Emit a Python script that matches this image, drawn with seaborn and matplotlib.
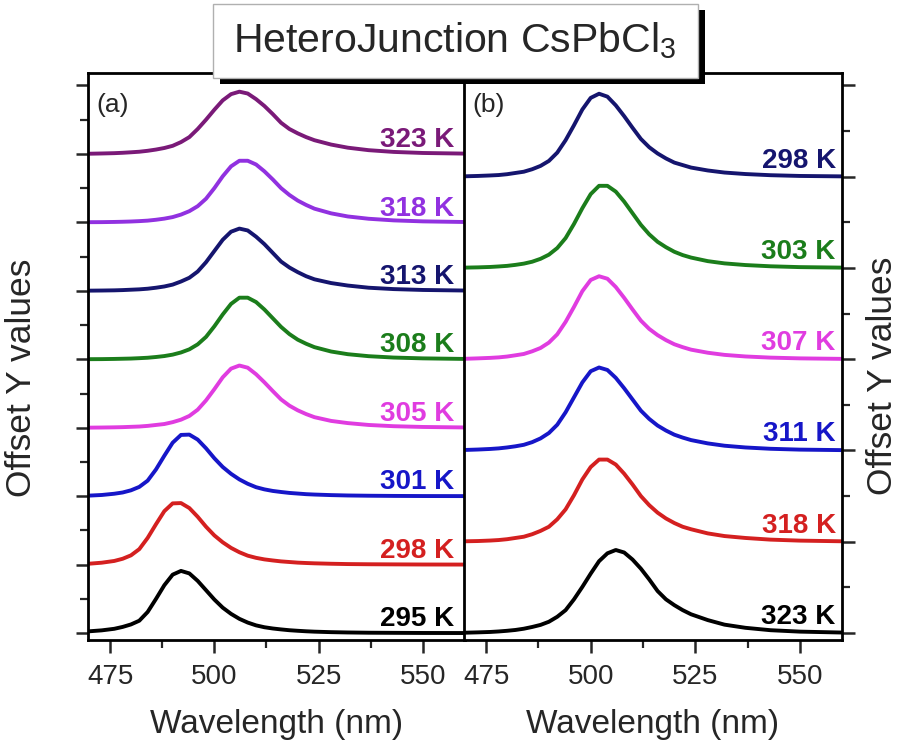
import matplotlib
matplotlib.use("Agg")
import matplotlib.pyplot as plt
from matplotlib.patches import Rectangle
from matplotlib.ticker import MultipleLocator
import pandas as pd
import seaborn as sns

# wavelength grid (nm) shared by all spectra
wavelength = [470, 473, 476, 478, 480, 482, 484, 486, 488, 490, 492, 494, 496, 498, 500, 502, 504,
              506, 508, 510, 512, 514, 516, 518, 520, 522, 524, 528, 532, 537, 543, 550, 560]

# panel (a), read from bottom to top
a_295 = [0.03, 0.045, 0.07, 0.10, 0.14, 0.20, 0.34, 0.55, 0.77, 0.94, 1.0, 0.96, 0.84, 0.69, 0.54, 0.41, 0.31,
         0.23, 0.17, 0.125, 0.095, 0.075, 0.06, 0.047, 0.038, 0.03, 0.024, 0.016, 0.011, 0.007, 0.005, 0.003, 0.002]
a_298 = [0.016, 0.032, 0.06, 0.095, 0.15, 0.25, 0.43, 0.65, 0.86, 0.985, 0.99, 0.91, 0.77, 0.61, 0.47, 0.36, 0.27,
         0.20, 0.145, 0.11, 0.085, 0.068, 0.053, 0.043, 0.033, 0.027, 0.022, 0.015, 0.01, 0.007, 0.005, 0.003, 0.002]
a_301 = [0.01, 0.02, 0.04, 0.06, 0.095, 0.15, 0.25, 0.43, 0.65, 0.86, 0.985, 0.99, 0.91, 0.77, 0.61, 0.47, 0.36,
         0.27, 0.20, 0.145, 0.11, 0.085, 0.068, 0.053, 0.043, 0.033, 0.027, 0.018, 0.012, 0.008, 0.005, 0.003, 0.002]
a_305 = [0.002, 0.004, 0.007, 0.01, 0.015, 0.02, 0.03, 0.045, 0.06, 0.09, 0.13, 0.19, 0.29, 0.44, 0.62, 0.81, 0.95,
         1.0, 0.965, 0.86, 0.73, 0.59, 0.455, 0.355, 0.28, 0.22, 0.17, 0.11, 0.075, 0.045, 0.025, 0.013, 0.005]
a_308 = [0.002, 0.003, 0.006, 0.009, 0.012, 0.018, 0.025, 0.037, 0.052, 0.075, 0.11, 0.16, 0.24, 0.36, 0.53, 0.72, 0.89,
         0.99, 0.99, 0.92, 0.80, 0.66, 0.52, 0.405, 0.315, 0.25, 0.195, 0.125, 0.082, 0.05, 0.028, 0.015, 0.006]
a_313 = [0.003, 0.005, 0.008, 0.012, 0.018, 0.024, 0.034, 0.05, 0.07, 0.10, 0.15, 0.21, 0.31, 0.46, 0.64, 0.82, 0.95,
         1.0, 0.97, 0.87, 0.75, 0.61, 0.47, 0.375, 0.30, 0.235, 0.185, 0.125, 0.085, 0.05, 0.028, 0.014, 0.005]
a_318 = [0.003, 0.004, 0.007, 0.01, 0.014, 0.02, 0.028, 0.042, 0.06, 0.085, 0.125, 0.18, 0.26, 0.38, 0.55, 0.74, 0.90,
         0.99, 0.99, 0.93, 0.82, 0.69, 0.55, 0.44, 0.35, 0.28, 0.22, 0.145, 0.095, 0.058, 0.032, 0.016, 0.006]
a_323 = [0.003, 0.007, 0.012, 0.018, 0.026, 0.035, 0.05, 0.07, 0.095, 0.13, 0.19, 0.27, 0.40, 0.55, 0.71, 0.86, 0.96,
         1.0, 0.97, 0.88, 0.77, 0.64, 0.50, 0.40, 0.33, 0.27, 0.22, 0.15, 0.10, 0.06, 0.032, 0.015, 0.005]

temps_a = ["295 K", "298 K", "301 K", "305 K", "308 K", "313 K", "318 K", "323 K"]
spectra_a = [a_295, a_298, a_301, a_305, a_308, a_313, a_318, a_323]
colors_a = ["#000000", "#d42020", "#1616c8", "#e03ce0", "#1b7d1b", "#15156e", "#9131e0", "#7a1a78"]

# panel (b), bottom to top
b_323 = [0.003, 0.007, 0.012, 0.018, 0.026, 0.036, 0.051, 0.072, 0.097, 0.135, 0.195, 0.275, 0.405, 0.555, 0.715, 0.865, 0.96,
         1.0, 0.97, 0.885, 0.775, 0.645, 0.505, 0.405, 0.335, 0.275, 0.225, 0.155, 0.10, 0.062, 0.033, 0.016, 0.005]
b_318 = [0.005, 0.008, 0.014, 0.02, 0.03, 0.045, 0.06, 0.09, 0.13, 0.18, 0.27, 0.39, 0.56, 0.75, 0.90, 0.99, 0.99,
         0.93, 0.82, 0.69, 0.55, 0.44, 0.35, 0.28, 0.225, 0.18, 0.15, 0.10, 0.068, 0.045, 0.025, 0.013, 0.005]
b_311 = [0.006, 0.011, 0.018, 0.025, 0.036, 0.05, 0.068, 0.10, 0.145, 0.21, 0.31, 0.46, 0.64, 0.82, 0.955, 1.0, 0.97,
         0.875, 0.75, 0.615, 0.48, 0.38, 0.30, 0.24, 0.19, 0.155, 0.125, 0.085, 0.057, 0.036, 0.02, 0.01, 0.004]
b_307 = [0.005, 0.01, 0.016, 0.022, 0.032, 0.047, 0.063, 0.095, 0.135, 0.20, 0.30, 0.45, 0.63, 0.82, 0.955, 1.0, 0.97,
         0.87, 0.74, 0.60, 0.465, 0.365, 0.29, 0.23, 0.18, 0.145, 0.115, 0.078, 0.052, 0.033, 0.019, 0.01, 0.004]
b_303 = [0.004, 0.007, 0.012, 0.018, 0.025, 0.037, 0.052, 0.075, 0.11, 0.16, 0.24, 0.36, 0.53, 0.72, 0.89, 0.99, 0.99,
         0.92, 0.80, 0.66, 0.52, 0.405, 0.315, 0.25, 0.195, 0.155, 0.125, 0.082, 0.055, 0.035, 0.02, 0.01, 0.004]
b_298 = [0.005, 0.009, 0.015, 0.02, 0.03, 0.045, 0.06, 0.09, 0.13, 0.19, 0.29, 0.44, 0.62, 0.81, 0.95, 1.0, 0.965,
         0.86, 0.73, 0.59, 0.455, 0.355, 0.28, 0.22, 0.17, 0.14, 0.11, 0.075, 0.05, 0.032, 0.018, 0.009, 0.004]

temps_b = ["323 K", "318 K", "311 K", "307 K", "303 K", "298 K"]
spectra_b = [b_323, b_318, b_311, b_307, b_303, b_298]
colors_b = ["#000000", "#d42020", "#1616c8", "#e03ce0", "#1b7d1b", "#15156e"]

STEP = 1.1  # vertical offset between stacked spectra

sns.set_theme(style="ticks")
plt.rcParams['font.family'] = ['Liberation Sans', 'DejaVu Sans']
plt.rcParams['mathtext.fontset'] = 'custom'
plt.rcParams['mathtext.rm'] = 'Liberation Sans'
plt.rcParams['mathtext.default'] = 'regular'


def stack(temps, spectra):
    rows = []
    for i, (t, ys) in enumerate(zip(temps, spectra)):
        for x, y in zip(wavelength, ys):
            rows.append({"wl": x, "y": y + i * STEP, "temp": t})
    return pd.DataFrame(rows)


fig = plt.figure(figsize=(9, 7.47), dpi=100)
ax_a = fig.add_axes([88 / 900, 107 / 747, 377 / 900, 567 / 747])
ax_b = fig.add_axes([464 / 900, 107 / 747, 378 / 900, 567 / 747])

panels = [(ax_a, temps_a, spectra_a, colors_a, (-0.11, 9.0), "(a)", 557.6),
          (ax_b, temps_b, spectra_b, colors_b, (-0.085, 6.75), "(b)", 558.6)]

for ax, temps, spectra, colors, ylim, tag, xlab in panels:
    df = stack(temps, spectra)
    sns.lineplot(data=df, x="wl", y="y", hue="temp", palette=dict(zip(temps, colors)),
                 estimator=None, sort=True, lw=2.8, legend=False, ax=ax)
    for i, (t, c) in enumerate(zip(temps, colors)):
        ax.text(xlab, i * STEP + 0.11, t, color=c, fontsize=20, fontweight="bold",
                ha="right", va="baseline")
    ax.text(0.022, 0.965, tag, transform=ax.transAxes, fontsize=19, ha="left", va="top")

    ax.set_xlim(469.7, 560.1)
    ax.set_ylim(*ylim)
    ax.xaxis.set_major_locator(MultipleLocator(25))
    ax.xaxis.set_minor_locator(MultipleLocator(12.5))
    ax.yaxis.set_major_locator(MultipleLocator(STEP))
    ax.yaxis.set_minor_locator(MultipleLocator(STEP / 2))
    ax.tick_params(which="major", direction="out", length=9, width=1.8, labelsize=20, pad=8)
    ax.tick_params(which="minor", direction="out", length=5.5, width=1.6)
    ax.tick_params(axis="y", which="both", labelleft=False, labelright=False)
    for s in ax.spines.values():
        s.set_linewidth(2)
        s.set_color("black")
    ax.set_xlabel("Wavelength (nm)", fontsize=24, labelpad=14)
    ax.set_ylabel("")

ax_b.yaxis.tick_right()
ax_b.tick_params(axis="y", which="both", labelright=False)

fig.text(22 / 900, 1 - 378 / 747, "Offset Y values", rotation=90, fontsize=25.5,
         ha="center", va="center")
fig.text(883 / 900, 1 - 376 / 747, "Offset Y values", rotation=90, fontsize=25.5,
         ha="center", va="center")

# title box with drop shadow
fig.patches.append(Rectangle((220 / 900, 1 - 84 / 747), 485 / 900, 74 / 747,
                             transform=fig.transFigure, facecolor="black", edgecolor="none", zorder=5))
fig.patches.append(Rectangle((213 / 900, 1 - 78 / 747), 485 / 900, 74 / 747,
                             transform=fig.transFigure, facecolor="white", edgecolor="#b0b0b0",
                             lw=1, zorder=6))
fig.text(455 / 900, 1 - 41 / 747, "HeteroJunction CsPbCl$_3$", fontsize=29.5,
         ha="center", va="center", zorder=7)

fig.savefig("out.png", dpi=100, facecolor="white")
